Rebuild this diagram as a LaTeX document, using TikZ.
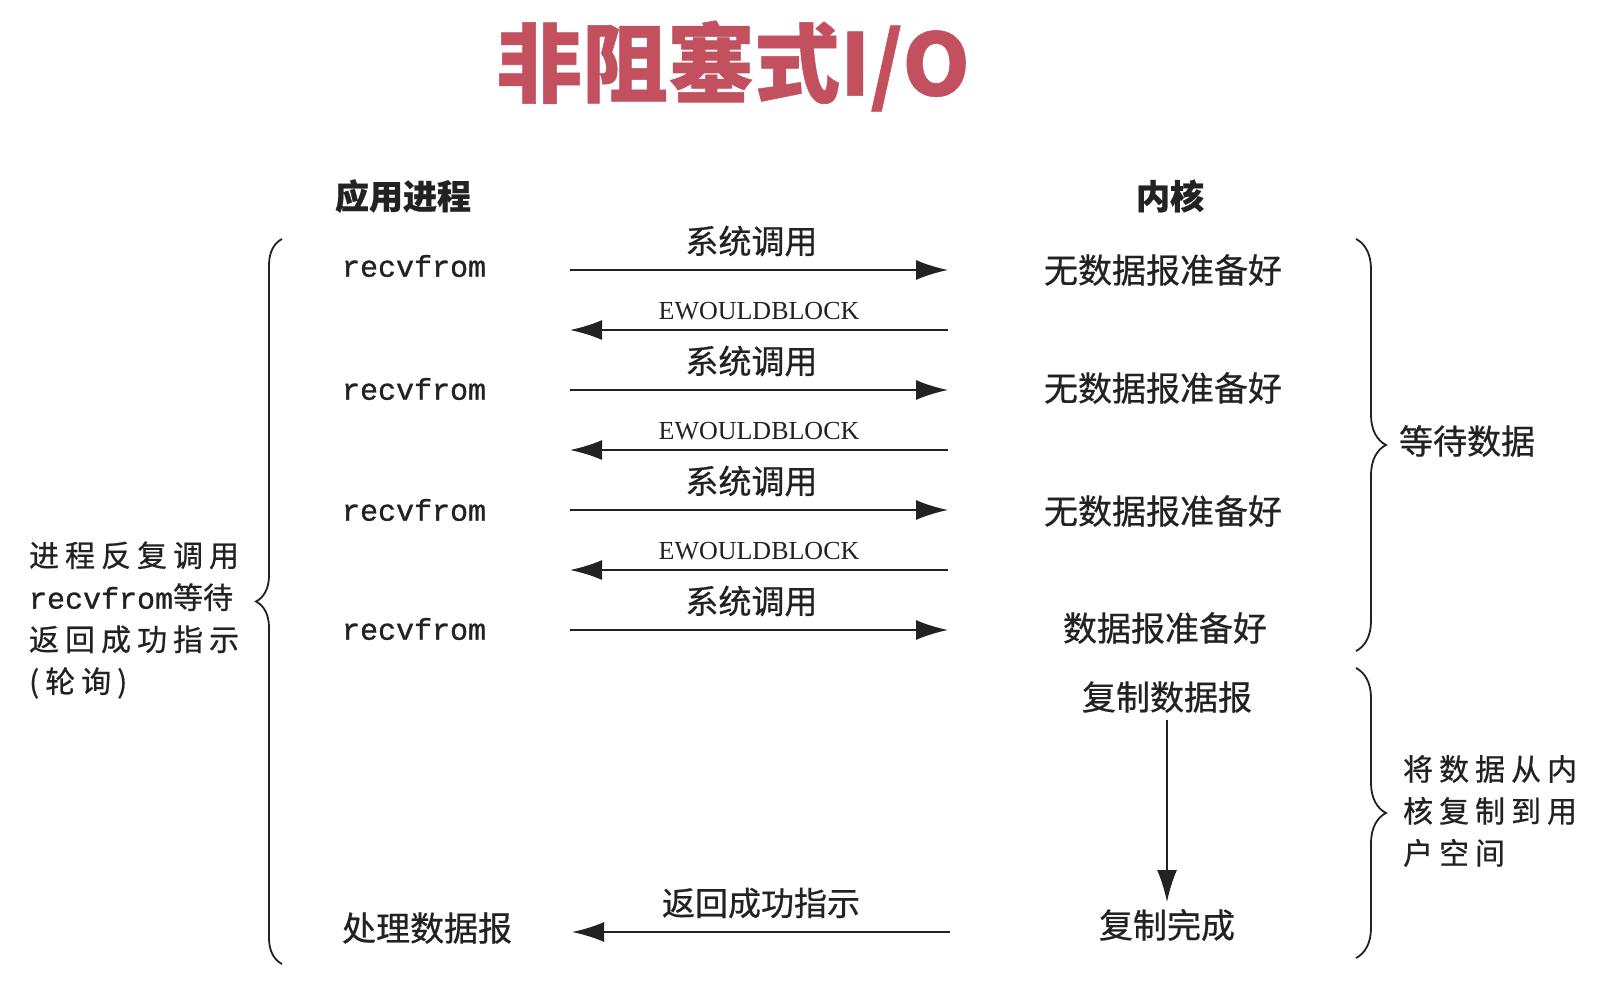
\documentclass[tikz,border=0pt]{standalone}
\usepackage{fontspec}
\setmainfont{Liberation Serif}
\setmonofont[FakeBold=1]{Liberation Mono}
\newfontfamily\cjk[FakeBold=0.6]{Noto Sans CJK SC}
\newfontfamily\cjksp[LetterSpace=20,FakeBold=0.6]{Noto Sans CJK SC}
\usetikzlibrary{arrows.meta,decorations.pathreplacing}
\definecolor{nbTitle}{HTML}{C2505E}
\definecolor{nbInk}{HTML}{222222}

\begin{document}
\begin{tikzpicture}[
    x=0.5pt, y=-0.5pt,
    title/.style={text=nbTitle, font=\cjk\bfseries\fontsize{43}{50}\selectfont},
    head/.style={text=nbInk, font=\cjk\bfseries\fontsize{17}{20}\selectfont},
    call/.style={text=nbInk, anchor=west, font=\ttfamily\fontsize{15}{18}\selectfont},
    kern/.style={text=nbInk, font=\cjk\fontsize{17}{20}\selectfont},
    note/.style={text=nbInk, align=left, anchor=west, font=\cjksp\fontsize{15}{21}\selectfont},
    lbl/.style={text=nbInk, above=3pt, font=\cjk\fontsize{16.5}{20}\selectfont},
    err/.style={text=nbInk, above=1pt, font=\fontsize{13}{15}\selectfont},
    arrow/.style={-{Latex[length=16pt,width=10pt]}, nbInk, line width=1pt},
    brc/.style={decorate, decoration={brace, amplitude=13pt}, nbInk, line width=0.9pt}
]
    \fill[white] (0,0) rectangle (1616,994);
    \useasboundingbox (0,0) rectangle (1616,994);

    % Title
    \node[title] (ttl) at (733,66) {非阻塞式I/O};

    % Column heads
    \node[head] (app) at (403,196) {应用进程};
    \node[head] (kernel) at (1170,196) {内核};

    % Application side
    \node[call] (rf1) at (335,266) {recvfrom};
    \node[call] (rf2) at (335,389) {recvfrom};
    \node[call] (rf3) at (335,510) {recvfrom};
    \node[call] (rf4) at (335,629) {recvfrom};
    \node[kern, anchor=west] (proc) at (335,928) {处理数据报};

    % Kernel side
    \node[kern] (nd1) at (1163,270) {无数据报准备好};
    \node[kern] (nd2) at (1163,388) {无数据报准备好};
    \node[kern] (nd3) at (1163,511) {无数据报准备好};
    \node[kern] (rdy) at (1165,628) {数据报准备好};
    \node[kern] (cpy) at (1167,697) {复制数据报};
    \node[kern] (done) at (1167,925) {复制完成};

    % Side notes
    \node[note] (poll) at (22,620) {进程反复调用\\{\cjk\ttfamily recvfrom}{\cjk 等待}\\返回成功指示\\(轮询)};
    \node[kern, anchor=west] (wait) at (1392,441) {等待数据};
    \node[note] (copy) at (1396,811) {将数据从内\\核复制到用\\户空间};

    % Arrow ends
    \coordinate (uA) at (570,270);  \coordinate (kA) at (948,270);
    \coordinate (uB) at (570,330);  \coordinate (kB) at (948,330);
    \coordinate (uC) at (570,390);  \coordinate (kC) at (948,390);
    \coordinate (uD) at (570,450);  \coordinate (kD) at (948,450);
    \coordinate (uE) at (570,510);  \coordinate (kE) at (948,510);
    \coordinate (uF) at (570,570);  \coordinate (kF) at (948,570);
    \coordinate (uG) at (570,630);  \coordinate (kG) at (948,630);
    \coordinate (uH) at (572,932);  \coordinate (kH) at (950,932);

    % Arrows
    \draw[arrow] (uA) -- node[lbl, pos=0.48] {系统调用} (kA);
    \draw[arrow] (kB) -- node[err] {EWOULDBLOCK} (uB);
    \draw[arrow] (uC) -- node[lbl, pos=0.48] {系统调用} (kC);
    \draw[arrow] (kD) -- node[err] {EWOULDBLOCK} (uD);
    \draw[arrow] (uE) -- node[lbl, pos=0.48] {系统调用} (kE);
    \draw[arrow] (kF) -- node[err] {EWOULDBLOCK} (uF);
    \draw[arrow] (uG) -- node[lbl, pos=0.48] {系统调用} (kG);
    \draw[arrow] (kH) -- node[lbl] {返回成功指示} (uH);
    \draw[arrow] (cpy) -- (done);

    % Braces
    \draw[brc] (282,964) -- (282,239);
    \draw[brc, decoration={amplitude=15pt}] (1356,239) -- (1356,651);
    \draw[brc, decoration={amplitude=15pt}] (1356,668) -- (1356,958);
\end{tikzpicture}
\end{document}
